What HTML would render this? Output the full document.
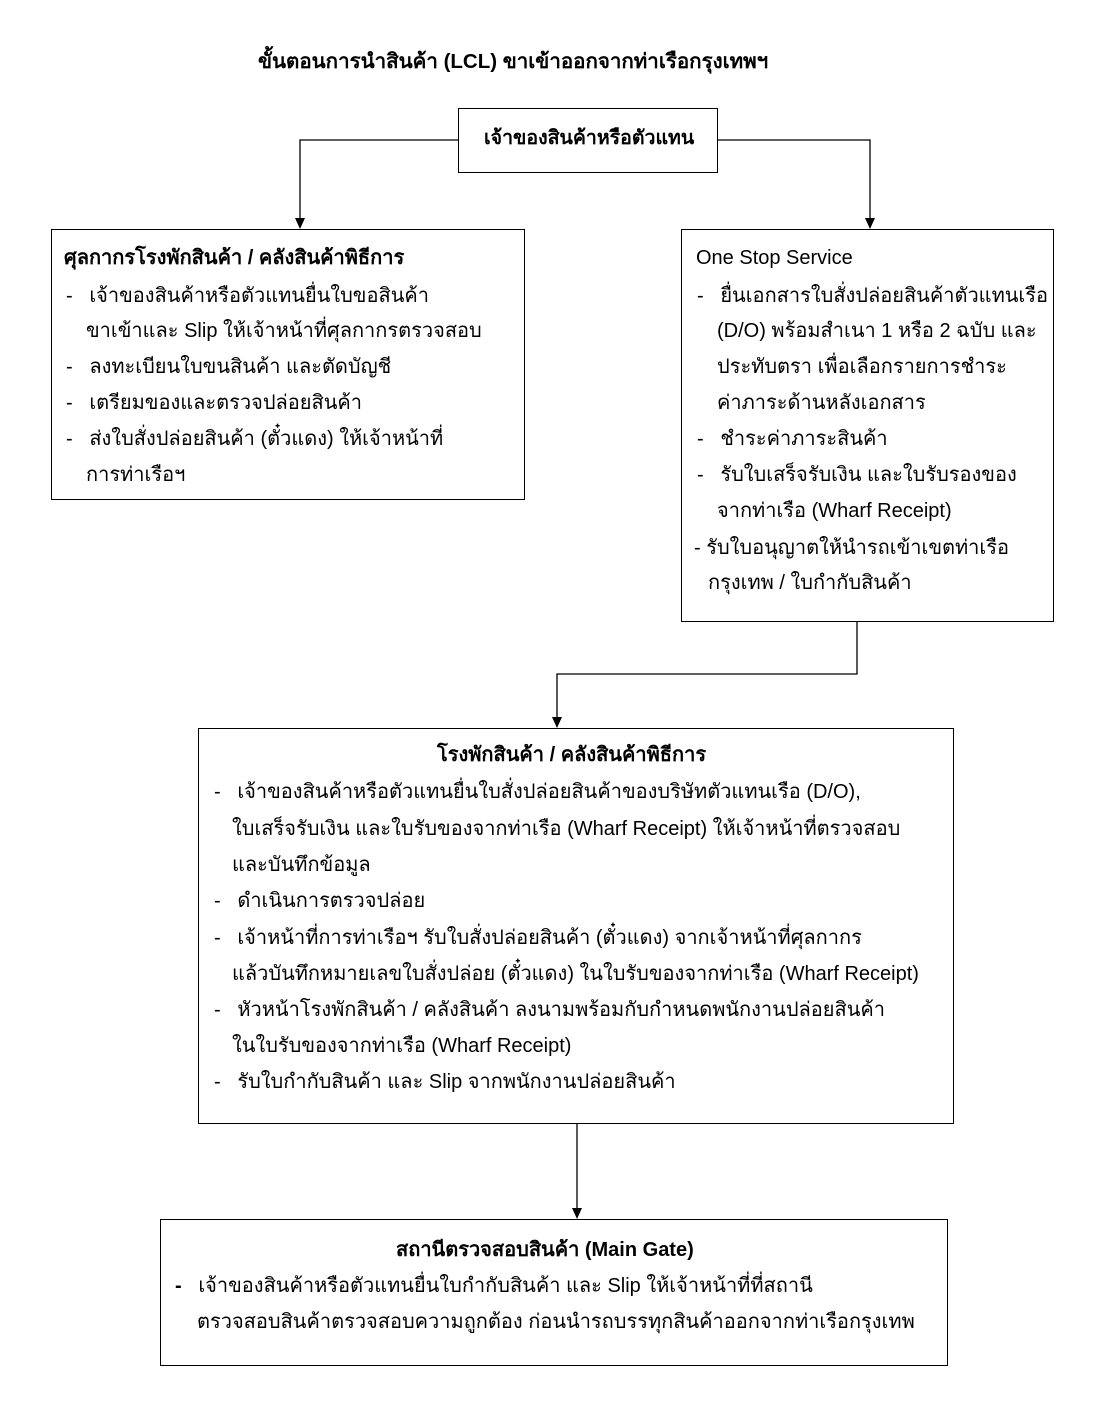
<!DOCTYPE html>
<html><head><meta charset="utf-8"><style>
body{margin:0;width:1107px;height:1407px;background:#fff;position:relative;font-family:"Liberation Sans","Noto Sans CJK SC",sans-serif;color:#000;overflow:hidden}
.b{position:absolute;border:1.3px solid #000;box-sizing:border-box}
.t{position:absolute;font-size:20px;line-height:24px;white-space:nowrap}
.bd{font-weight:bold}
svg{position:absolute;left:0;top:0}
</style></head><body>
<svg width="1107" height="1407">
<g stroke="#000" stroke-width="1.3" fill="none">
<polyline points="458,140 300,140 300,220"/>
<polyline points="718,140 870,140 870,220"/>
<polyline points="857,622 857,674 557,674 557,720"/>
<line x1="577" y1="1124" x2="577" y2="1210"/>
</g>
<g fill="#000">
<polygon points="295,218 305,218 300,229"/>
<polygon points="865,218 875,218 870,229"/>
<polygon points="552,717 562,717 557,728"/>
<polygon points="572,1208 582,1208 577,1219"/>
</g>
</svg>
<div class="t bd" style="left:258px;top:50px;font-size:20.5px">ขั้นตอนการนำสินค้า (LCL) ขาเข้าออกจากท่าเรือกรุงเทพฯ</div>
<div class="b" style="left:458px;top:108px;width:260px;height:65px"></div>
<div class="t bd" style="left:484px;top:126px;font-size:19.5px">เจ้าของสินค้าหรือตัวแทน</div>

<div class="b" style="left:51px;top:229px;width:474px;height:271px"></div>
<div class="t bd" style="left:64px;top:246px">ศุลกากรโรงพักสินค้า / คลังสินค้าพิธีการ</div>
<div class="t" style="left:66px;top:284px">-&nbsp;&nbsp;&nbsp;เจ้าของสินค้าหรือตัวแทนยื่นใบขอสินค้า</div>
<div class="t" style="left:86px;top:319px">ขาเข้าและ Slip ให้เจ้าหน้าที่ศุลกากรตรวจสอบ</div>
<div class="t" style="left:66px;top:355px">-&nbsp;&nbsp;&nbsp;ลงทะเบียนใบขนสินค้า และตัดบัญชี</div>
<div class="t" style="left:66px;top:391px">-&nbsp;&nbsp;&nbsp;เตรียมของและตรวจปล่อยสินค้า</div>
<div class="t" style="left:66px;top:427px">-&nbsp;&nbsp;&nbsp;ส่งใบสั่งปล่อยสินค้า (ตั๋วแดง) ให้เจ้าหน้าที่</div>
<div class="t" style="left:86px;top:463px">การท่าเรือฯ</div>

<div class="b" style="left:681px;top:229px;width:373px;height:393px"></div>
<div class="t" style="left:696px;top:246px">One Stop Service</div>
<div class="t" style="left:697px;top:284px">-&nbsp;&nbsp;&nbsp;ยื่นเอกสารใบสั่งปล่อยสินค้าตัวแทนเรือ</div>
<div class="t" style="left:717px;top:319px">(D/O) พร้อมสำเนา 1 หรือ 2 ฉบับ และ</div>
<div class="t" style="left:717px;top:355px">ประทับตรา เพื่อเลือกรายการชำระ</div>
<div class="t" style="left:717px;top:391px">ค่าภาระด้านหลังเอกสาร</div>
<div class="t" style="left:697px;top:427px">-&nbsp;&nbsp;&nbsp;ชำระค่าภาระสินค้า</div>
<div class="t" style="left:697px;top:463px">-&nbsp;&nbsp;&nbsp;รับใบเสร็จรับเงิน และใบรับรองของ</div>
<div class="t" style="left:717px;top:499px">จากท่าเรือ (Wharf Receipt)</div>
<div class="t" style="left:694px;top:536px">- รับใบอนุญาตให้นำรถเข้าเขตท่าเรือ</div>
<div class="t" style="left:708px;top:571px">กรุงเทพ / ใบกำกับสินค้า</div>

<div class="b" style="left:198px;top:728px;width:756px;height:396px"></div>
<div class="t bd" style="left:437px;top:743px">โรงพักสินค้า / คลังสินค้าพิธีการ</div>
<div class="t" style="left:214px;top:780px">-&nbsp;&nbsp;&nbsp;เจ้าของสินค้าหรือตัวแทนยื่นใบสั่งปล่อยสินค้าของบริษัทตัวแทนเรือ (D/O),</div>
<div class="t" style="left:232px;top:817px">ใบเสร็จรับเงิน และใบรับของจากท่าเรือ (Wharf Receipt) ให้เจ้าหน้าที่ตรวจสอบ</div>
<div class="t" style="left:232px;top:853px">และบันทึกข้อมูล</div>
<div class="t" style="left:214px;top:889px">-&nbsp;&nbsp;&nbsp;ดำเนินการตรวจปล่อย</div>
<div class="t" style="left:214px;top:926px">-&nbsp;&nbsp;&nbsp;เจ้าหน้าที่การท่าเรือฯ รับใบสั่งปล่อยสินค้า (ตั๋วแดง) จากเจ้าหน้าที่ศุลกากร</div>
<div class="t" style="left:232px;top:962px">แล้วบันทึกหมายเลขใบสั่งปล่อย (ตั๋วแดง) ในใบรับของจากท่าเรือ (Wharf Receipt)</div>
<div class="t" style="left:214px;top:998px">-&nbsp;&nbsp;&nbsp;หัวหน้าโรงพักสินค้า / คลังสินค้า ลงนามพร้อมกับกำหนดพนักงานปล่อยสินค้า</div>
<div class="t" style="left:232px;top:1034px">ในใบรับของจากท่าเรือ (Wharf Receipt)</div>
<div class="t" style="left:214px;top:1070px">-&nbsp;&nbsp;&nbsp;รับใบกำกับสินค้า และ Slip จากพนักงานปล่อยสินค้า</div>

<div class="b" style="left:160px;top:1219px;width:788px;height:147px"></div>
<div class="t bd" style="left:396px;top:1238px">สถานีตรวจสอบสินค้า (Main Gate)</div>
<div class="t" style="left:175px;top:1274px"><b>-</b>&nbsp;&nbsp;&nbsp;เจ้าของสินค้าหรือตัวแทนยื่นใบกำกับสินค้า และ Slip ให้เจ้าหน้าที่ที่สถานี</div>
<div class="t" style="left:197px;top:1310px">ตรวจสอบสินค้าตรวจสอบความถูกต้อง ก่อนนำรถบรรทุกสินค้าออกจากท่าเรือกรุงเทพ</div>
</body></html>
